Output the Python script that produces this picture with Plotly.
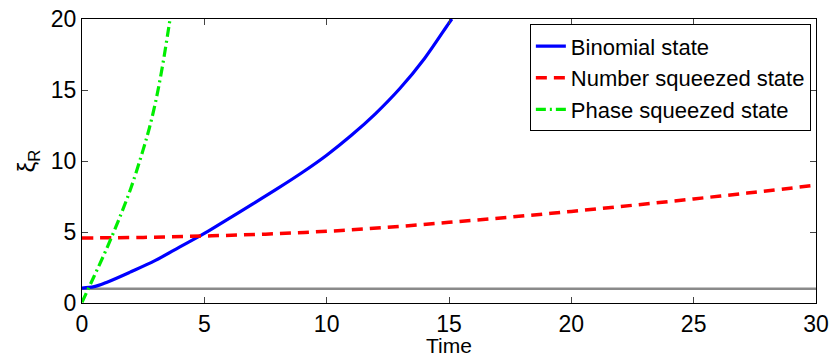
import plotly.graph_objects as go

# ---- data ----
binomial_t = [0, 0.5, 1, 2, 3, 4, 5, 6, 7, 8, 9, 10, 11, 12, 13, 14, 15, 15.12]
binomial_xi = [1.05, 1.15, 1.45, 2.2, 3.0, 3.95, 4.9, 5.95, 7.0, 8.07, 9.19, 10.41, 11.79, 13.34, 15.12, 17.22, 19.72, 20.0]

number_t = [0, 2.5, 5, 7.5, 10, 12.5, 15, 17.5, 20, 22.5, 25, 27.5, 30]
number_xi = [4.58, 4.62, 4.72, 4.85, 5.05, 5.33, 5.68, 6.05, 6.45, 6.88, 7.33, 7.8, 8.3]

phase_t = [0, 0.5, 1.0, 1.5, 2.0, 2.5, 2.75, 3.0, 3.25, 3.5, 3.6]
phase_xi = [0.05, 1.9, 3.8, 5.85, 8.1, 10.8, 12.3, 14.1, 16.3, 18.9, 20.0]

ref_t = [0, 30]
ref_xi = [1, 1]

x_ticks = [0, 5, 10, 15, 20, 25, 30]
y_ticks = [0, 5, 10, 15, 20]

FONT = "Liberation Sans, Arial, sans-serif"

fig = go.Figure()
fig.add_trace(go.Scatter(x=ref_t, y=ref_xi, mode="lines", showlegend=False,
                         line=dict(color="#8a8a8a", width=2.5), hoverinfo="skip"))
fig.add_trace(go.Scatter(x=binomial_t, y=binomial_xi, mode="lines", name="Binomial state",
                         line=dict(color="#0000ff", width=3.2, shape="spline", smoothing=1.0)))
fig.add_trace(go.Scatter(x=number_t, y=number_xi, mode="lines", name="Number squeezed state",
                         line=dict(color="#ff0000", width=3.5, dash="11px,7px", shape="spline")))
fig.add_trace(go.Scatter(x=phase_t, y=phase_xi, mode="lines", name="Phase squeezed state",
                         line=dict(color="#00ee00", width=3.2, dash="10px,4px,2px,4px", shape="spline", smoothing=1.0)))

axis_common = dict(showline=True, linecolor="black", linewidth=1, mirror="ticks",
                   ticks="inside", ticklen=6, tickcolor="#444", tickwidth=1,
                   showgrid=False, zeroline=False, automargin=False,
                   tickfont=dict(family=FONT, size=23, color="black"))

fig.update_xaxes(range=[0, 30], tickvals=x_ticks, ticktext=[str(v) for v in x_ticks],
                 **axis_common)
fig.update_yaxes(range=[0, 20], tickvals=y_ticks, ticktext=[str(v) for v in y_ticks],
                 title=dict(text="ξ<sub>R</sub>", font=dict(family=FONT, size=24, color="black"), standoff=8),
                 **axis_common)

# x-axis title placed as an annotation for precise vertical placement
fig.add_annotation(text="Time", xref="paper", yref="paper", x=0.5, y=0,
                   xanchor="center", yanchor="top", yshift=-30, showarrow=False,
                   borderpad=0, font=dict(family=FONT, size=21, color="black"))

fig.update_layout(
    width=832, height=358,
    margin=dict(l=82, r=16, t=19, b=55),
    paper_bgcolor="white", plot_bgcolor="white",
    legend=dict(x=0.993, xanchor="right", y=0.981, yanchor="top",
                bgcolor="white", bordercolor="black", borderwidth=1,
                font=dict(family=FONT, size=22, color="black"),
                tracegroupgap=0, itemwidth=30),
)

fig.write_html("out.html")
